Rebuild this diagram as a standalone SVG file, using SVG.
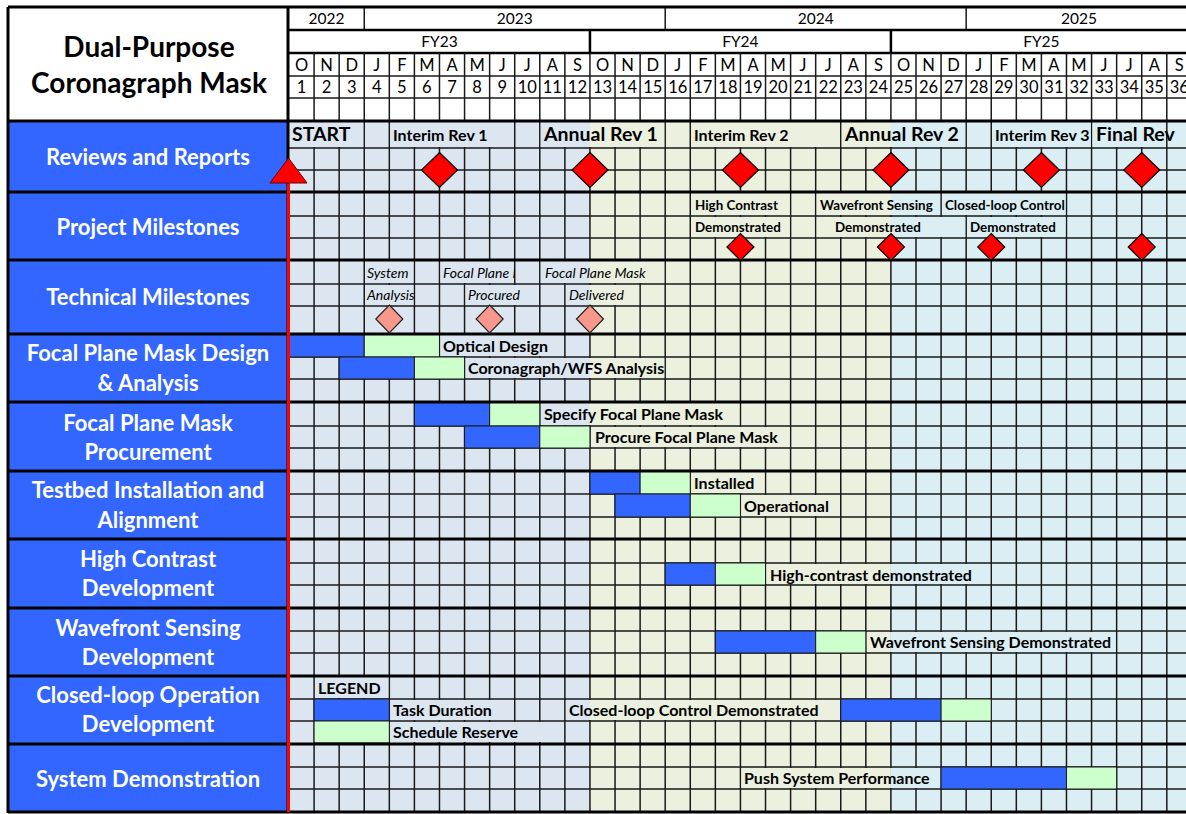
<svg xmlns="http://www.w3.org/2000/svg" width="1186" height="814" viewBox="0 0 1186 814">
<style>
text{font-family:Lato,"Liberation Sans",Arial,sans-serif}
.sec{fill:#fff;font-weight:700;font-size:22px;text-anchor:middle}
.ttl{fill:#000;font-weight:700;font-size:28px;text-anchor:middle}
.hd{fill:#000;font-size:15.5px;text-anchor:middle}
.mo{fill:#000;font-size:16.5px;text-anchor:middle}
.rvB{fill:#000;font-weight:700;font-size:19.5px}
.rvS{fill:#000;font-weight:700;font-size:16px}
.pm{fill:#000;font-weight:700;font-size:13.4px}
.tm{fill:#000;font-style:italic;font-size:14px}
.tk{fill:#000;font-weight:700;font-size:16px}
.bB{fill:#3366FF}.bG{fill:#CCFFCC}
.c1{fill:#DCE6F1}.c2{fill:#EBF1DE}.c3{fill:#DAEEF3}
.bar{stroke:#1a1a1a;stroke-width:1}
.thin{stroke:#1a1a1a;stroke-width:1.5;fill:none}
.thick{stroke:#000;stroke-width:3;fill:none}
.dR{fill:#FF0000;stroke:#000;stroke-width:1.2}
.dP{fill:#F8978C;stroke:#222;stroke-width:1.2}
.panel{fill:#3366FF}
</style>
<defs>
<clipPath id="clipIR3"><rect x="991" y="121" width="100.5" height="27"/></clipPath>
<clipPath id="clipFP"><rect x="439" y="260" width="75.7" height="24"/></clipPath>
</defs>
<rect width="1186" height="814" fill="#fff"/>

<g id="backgrounds">
<rect class="c1" x="289" y="121" width="301" height="691"/>
<rect class="c2" x="589.96" y="121" width="301" height="691"/>
<rect class="c3" x="890.92" y="121" width="296" height="691"/>
</g>

<g id="gridlines">
<path class="thin" d="M314.08 53V812M339.16 53V812M364.24 53V812M389.32 53V812M414.4 53V812M439.48 53V812M464.56 53V812M489.64 53V812M514.72 53V812M539.8 53V812M564.88 53V812M589.96 53V812M615.04 53V812M640.12 53V812M665.2 53V812M690.28 53V812M715.36 53V812M740.44 53V812M765.52 53V812M790.6 53V812M815.68 53V812M840.76 53V812M865.84 53V812M890.92 53V812M916 53V812M941.08 53V812M966.16 53V812M991.24 53V812M1016.32 53V812M1041.4 53V812M1066.48 53V812M1091.56 53V812M1116.64 53V812M1141.72 53V812M1166.8 53V812"/>
<path class="thin" d="M289 76H1186M289 98H1186M289 148H1186M289 170H1186M289 216H1186M289 238H1186M289 284H1186M289 306H1186M289 357H1186M289 379H1186M289 426H1186M289 448H1186M289 494H1186M289 517H1186M289 563H1186M289 585H1186M289 631H1186M289 653H1186M289 699H1186M289 721H1186M289 767H1186M289 789H1186"/>
</g>

<g id="overflow-masks">
<rect class="c1" x="290.5" y="122" width="72.7" height="25"/>
<rect class="c1" x="390.3" y="122" width="123.4" height="25"/>
<rect class="c1" x="540.8" y="122" width="49.2" height="25"/>
<rect class="c2" x="589.9" y="122" width="74.3" height="25"/>
<rect class="c2" x="691.3" y="122" width="148.5" height="25"/>
<rect class="c2" x="841.8" y="122" width="49.2" height="25"/>
<rect class="c3" x="890.9" y="122" width="74.3" height="25"/>
<rect class="c3" x="992.2" y="122" width="98.4" height="25"/>
<rect class="c3" x="1092.6" y="122" width="73.2" height="25"/>
<rect class="c2" x="691.3" y="193" width="98.3" height="22"/>
<rect class="c2" x="816.7" y="193" width="74.3" height="22"/>
<rect class="c3" x="890.9" y="193" width="49.2" height="22"/>
<rect class="c3" x="942.1" y="193" width="123.4" height="22"/>
<rect class="c2" x="691.3" y="217" width="98.3" height="20"/>
<rect class="c2" x="816.7" y="217" width="74.3" height="20"/>
<rect class="c3" x="890.9" y="217" width="74.3" height="20"/>
<rect class="c3" x="967.2" y="217" width="98.3" height="20"/>
<rect class="c1" x="365.2" y="261" width="48.2" height="22"/>
<rect class="c1" x="440.5" y="261" width="73.2" height="22"/>
<rect class="c1" x="540.8" y="261" width="49.2" height="22"/>
<rect class="c2" x="589.9" y="261" width="74.3" height="22"/>
<rect class="c1" x="365.2" y="285" width="48.2" height="20"/>
<rect class="c1" x="465.6" y="285" width="73.2" height="20"/>
<rect class="c1" x="565.9" y="285" width="24.1" height="20"/>
<rect class="c2" x="589.9" y="285" width="49.2" height="20"/>
<rect class="c1" x="440.5" y="335" width="123.4" height="21"/>
<rect class="c1" x="465.6" y="358" width="124.4" height="20"/>
<rect class="c2" x="589.9" y="358" width="74.3" height="20"/>
<rect class="c1" x="540.8" y="403" width="49.2" height="22"/>
<rect class="c2" x="589.9" y="403" width="149.5" height="22"/>
<rect class="c2" x="591" y="427" width="198.6" height="20"/>
<rect class="c2" x="691.3" y="472" width="73.2" height="21"/>
<rect class="c2" x="741.4" y="495" width="98.3" height="21"/>
<rect class="c2" x="766.5" y="564" width="124.4" height="20"/>
<rect class="c3" x="890.9" y="564" width="99.3" height="20"/>
<rect class="c2" x="866.8" y="632" width="24.1" height="20"/>
<rect class="c3" x="890.9" y="632" width="224.7" height="20"/>
<rect class="c1" x="315.1" y="677" width="73.2" height="21"/>
<rect class="c1" x="390.3" y="700" width="123.4" height="20"/>
<rect class="c1" x="565.9" y="700" width="24.1" height="20"/>
<rect class="c2" x="589.9" y="700" width="249.8" height="20"/>
<rect class="c1" x="390.3" y="722" width="173.6" height="20"/>
<rect class="c2" x="741.4" y="768" width="149.5" height="20"/>
<rect class="c3" x="890.9" y="768" width="49.2" height="20"/>
</g>

<g id="bars">
<rect class="bB bar" x="289" y="334" width="75.24" height="23"/>
<rect class="bG bar" x="364.24" y="334" width="75.24" height="23"/>
<rect class="bB bar" x="339.16" y="357" width="75.24" height="22"/>
<rect class="bG bar" x="414.4" y="357" width="50.16" height="22"/>
<rect class="bB bar" x="414.4" y="402" width="75.24" height="24"/>
<rect class="bG bar" x="489.64" y="402" width="50.16" height="24"/>
<rect class="bB bar" x="464.56" y="426" width="75.24" height="22"/>
<rect class="bG bar" x="539.8" y="426" width="50.16" height="22"/>
<rect class="bB bar" x="589.96" y="471" width="50.16" height="23"/>
<rect class="bG bar" x="640.12" y="471" width="50.16" height="23"/>
<rect class="bB bar" x="615.04" y="494" width="75.24" height="23"/>
<rect class="bG bar" x="690.28" y="494" width="50.16" height="23"/>
<rect class="bB bar" x="665.2" y="563" width="50.16" height="22"/>
<rect class="bG bar" x="715.36" y="563" width="50.16" height="22"/>
<rect class="bB bar" x="715.36" y="631" width="100.32" height="22"/>
<rect class="bG bar" x="815.68" y="631" width="50.16" height="22"/>
<rect class="bB bar" x="314.08" y="699" width="75.24" height="22"/>
<rect class="bG bar" x="314.08" y="721" width="75.24" height="22"/>
<rect class="bB bar" x="840.76" y="699" width="100.32" height="22"/>
<rect class="bG bar" x="941.08" y="699" width="50.16" height="22"/>
<rect class="bB bar" x="941.08" y="767" width="125.4" height="22"/>
<rect class="bG bar" x="1066.48" y="767" width="50.16" height="22"/>
</g>

<g id="header">
<rect x="289" y="7" width="897" height="114" fill="#fff"/>
<path class="thin" d="M364.24 7V30M665.2 7V30M966.16 7V30"/>
<path stroke="#000" stroke-width="2.5" fill="none" d="M288 30H1186M288 53H1186M589.96 30V53M890.92 30V53"/>
<path class="thin" d="M314.08 53V121M339.16 53V121M364.24 53V121M389.32 53V121M414.4 53V121M439.48 53V121M464.56 53V121M489.64 53V121M514.72 53V121M539.8 53V121M564.88 53V121M589.96 53V121M615.04 53V121M640.12 53V121M665.2 53V121M690.28 53V121M715.36 53V121M740.44 53V121M765.52 53V121M790.6 53V121M815.68 53V121M840.76 53V121M865.84 53V121M890.92 53V121M916 53V121M941.08 53V121M966.16 53V121M991.24 53V121M1016.32 53V121M1041.4 53V121M1066.48 53V121M1091.56 53V121M1116.64 53V121M1141.72 53V121M1166.8 53V121M289 76H1186M289 98H1186"/>
<text class="hd" x="326.6" y="24">2022</text>
<text class="hd" x="514.7" y="24">2023</text>
<text class="hd" x="815.7" y="24">2024</text>
<text class="hd" x="1079" y="24">2025</text>
<text class="hd" x="439.5" y="47">FY23</text>
<text class="hd" x="740.4" y="47">FY24</text>
<text class="hd" x="1041.4" y="47">FY25</text>
<g class="mo">
<text x="301.5" y="71">O</text><text x="326.6" y="71">N</text><text x="351.7" y="71">D</text><text x="376.8" y="71">J</text><text x="401.9" y="71">F</text><text x="426.9" y="71">M</text><text x="452" y="71">A</text><text x="477.1" y="71">M</text><text x="502.2" y="71">J</text><text x="527.3" y="71">J</text><text x="552.3" y="71">A</text><text x="577.4" y="71">S</text>
<text x="602.5" y="71">O</text><text x="627.6" y="71">N</text><text x="652.7" y="71">D</text><text x="677.7" y="71">J</text><text x="702.8" y="71">F</text><text x="727.9" y="71">M</text><text x="753" y="71">A</text><text x="778.1" y="71">M</text><text x="803.1" y="71">J</text><text x="828.2" y="71">J</text><text x="853.3" y="71">A</text><text x="878.4" y="71">S</text>
<text x="903.5" y="71">O</text><text x="928.5" y="71">N</text><text x="953.6" y="71">D</text><text x="978.7" y="71">J</text><text x="1003.8" y="71">F</text><text x="1028.9" y="71">M</text><text x="1053.9" y="71">A</text><text x="1079" y="71">M</text><text x="1104.1" y="71">J</text><text x="1129.2" y="71">J</text><text x="1154.3" y="71">A</text><text x="1179.3" y="71">S</text>
<text x="301.5" y="93">1</text><text x="326.6" y="93">2</text><text x="351.7" y="93">3</text><text x="376.8" y="93">4</text><text x="401.9" y="93">5</text><text x="426.9" y="93">6</text><text x="452" y="93">7</text><text x="477.1" y="93">8</text><text x="502.2" y="93">9</text><text x="527.3" y="93">10</text><text x="552.3" y="93">11</text><text x="577.4" y="93">12</text>
<text x="602.5" y="93">13</text><text x="627.6" y="93">14</text><text x="652.7" y="93">15</text><text x="677.7" y="93">16</text><text x="702.8" y="93">17</text><text x="727.9" y="93">18</text><text x="753" y="93">19</text><text x="778.1" y="93">20</text><text x="803.1" y="93">21</text><text x="828.2" y="93">22</text><text x="853.3" y="93">23</text><text x="878.4" y="93">24</text>
<text x="903.5" y="93">25</text><text x="928.5" y="93">26</text><text x="953.6" y="93">27</text><text x="978.7" y="93">28</text><text x="1003.8" y="93">29</text><text x="1028.9" y="93">30</text><text x="1053.9" y="93">31</text><text x="1079" y="93">32</text><text x="1104.1" y="93">33</text><text x="1129.2" y="93">34</text><text x="1154.3" y="93">35</text><text x="1179.3" y="93">36</text>
</g>
</g>

<g id="title">
<rect x="8" y="7" width="280" height="114" fill="#fff"/>
<text class="ttl" x="149" y="57">Dual-Purpose</text>
<text class="ttl" x="149" y="93">Coronagraph Mask</text>
</g>

<g id="panels">
<rect class="panel" x="8" y="121" width="280" height="691"/>
</g>

<g id="frame">
<path class="thick" d="M8 121H1186M8 192H1186M8 260H1186M8 334H1186M8 402H1186M8 471H1186M8 539H1186M8 608H1186M8 676H1186M8 744H1186M8 812H1186M8 7H1186M8 7V813M288 7V812"/>
</g>

<g id="sec-reviews">
<text class="sec" x="148" y="165">Reviews and Reports</text>
<text class="rvB" x="292" y="141">START</text>
<text class="rvS" x="393" y="141">Interim Rev 1</text>
<text class="rvB" x="544" y="141">Annual Rev 1</text>
<text class="rvS" x="694" y="141">Interim Rev 2</text>
<text class="rvB" x="845" y="141">Annual Rev 2</text>
<text class="rvS" x="995" y="141" clip-path="url(#clipIR3)">Interim Rev 3</text>
<text class="rvB" x="1096" y="141">Final Rev</text>
<polygon class="dR" points="439.48,152.5 457.48,170 439.48,187.5 421.48,170"/>
<polygon class="dR" points="589.96,152.5 607.96,170 589.96,187.5 571.96,170"/>
<polygon class="dR" points="740.44,152.5 758.44,170 740.44,187.5 722.44,170"/>
<polygon class="dR" points="890.92,152.5 908.92,170 890.92,187.5 872.92,170"/>
<polygon class="dR" points="1041.4,152.5 1059.4,170 1041.4,187.5 1023.4,170"/>
<polygon class="dR" points="1141.72,152.5 1159.72,170 1141.72,187.5 1123.72,170"/>
</g>

<g id="sec-project">
<text class="sec" x="148" y="235">Project Milestones</text>
<text class="pm" x="695" y="210">High Contrast</text>
<text class="pm" x="695" y="232">Demonstrated</text>
<text class="pm" x="820" y="210">Wavefront Sensing</text>
<text class="pm" x="835" y="232">Demonstrated</text>
<text class="pm" x="945" y="210">Closed-loop Control</text>
<text class="pm" x="970" y="232">Demonstrated</text>
<polygon class="dR" points="740.44,233.5 753.94,247 740.44,260.5 726.94,247"/>
<polygon class="dR" points="890.92,233.5 904.42,247 890.92,260.5 877.42,247"/>
<polygon class="dR" points="991.24,233.5 1004.74,247 991.24,260.5 977.74,247"/>
<polygon class="dR" points="1141.72,233.5 1155.22,247 1141.72,260.5 1128.22,247"/>
</g>

<g id="sec-technical">
<text class="sec" x="148" y="305">Technical Milestones</text>
<text class="tm" x="367" y="278">System</text>
<text class="tm" x="367" y="300">Analysis</text>
<text class="tm" x="443" y="278" clip-path="url(#clipFP)">Focal Plane Mask</text>
<text class="tm" x="468" y="300">Procured</text>
<text class="tm" x="545" y="278">Focal Plane Mask</text>
<text class="tm" x="569" y="300">Delivered</text>
<polygon class="dP" points="389.32,305 402.82,319 389.32,333 375.82,319"/>
<polygon class="dP" points="489.64,305 503.14,319 489.64,333 476.14,319"/>
<polygon class="dP" points="589.96,305 603.46,319 589.96,333 576.46,319"/>
</g>

<g id="sec-design">
<text class="sec" x="148" y="361">Focal Plane Mask Design</text>
<text class="sec" x="148" y="391">&amp; Analysis</text>
<text class="tk" x="443" y="352">Optical Design</text>
<text class="tk" x="468" y="374">Coronagraph/WFS Analysis</text>
</g>

<g id="sec-procurement">
<text class="sec" x="148" y="431">Focal Plane Mask</text>
<text class="sec" x="148" y="460">Procurement</text>
<text class="tk" x="544" y="420">Specify Focal Plane Mask</text>
<text class="tk" x="595" y="443">Procure Focal Plane Mask</text>
</g>

<g id="sec-testbed">
<text class="sec" x="148" y="498">Testbed Installation and</text>
<text class="sec" x="148" y="528">Alignment</text>
<text class="tk" x="694" y="489">Installed</text>
<text class="tk" x="744" y="512">Operational</text>
</g>

<g id="sec-highcontrast">
<text class="sec" x="148" y="567">High Contrast</text>
<text class="sec" x="148" y="596">Development</text>
<text class="tk" x="770" y="581">High-contrast demonstrated</text>
</g>

<g id="sec-wavefront">
<text class="sec" x="148" y="636">Wavefront Sensing</text>
<text class="sec" x="148" y="665">Development</text>
<text class="tk" x="870" y="648">Wavefront Sensing Demonstrated</text>
</g>

<g id="sec-closedloop">
<text class="sec" x="148" y="703">Closed-loop Operation</text>
<text class="sec" x="148" y="732">Development</text>
<text class="tk" x="318" y="694">LEGEND</text>
<text class="tk" x="393" y="716">Task Duration</text>
<text class="tk" x="393" y="738">Schedule Reserve</text>
<text class="tk" x="569" y="716">Closed-loop Control Demonstrated</text>
</g>

<g id="sec-system">
<text class="sec" x="148" y="787">System Demonstration</text>
<text class="tk" x="744" y="784">Push System Performance</text>
</g>

<g id="start-marker">
<line x1="288.5" y1="180" x2="288.5" y2="812" stroke="#FF0000" stroke-width="3"/>
<polygon points="288.5,158 307,183 270,183" fill="#FF0000" stroke="#600" stroke-width="1"/>
</g>
</svg>
